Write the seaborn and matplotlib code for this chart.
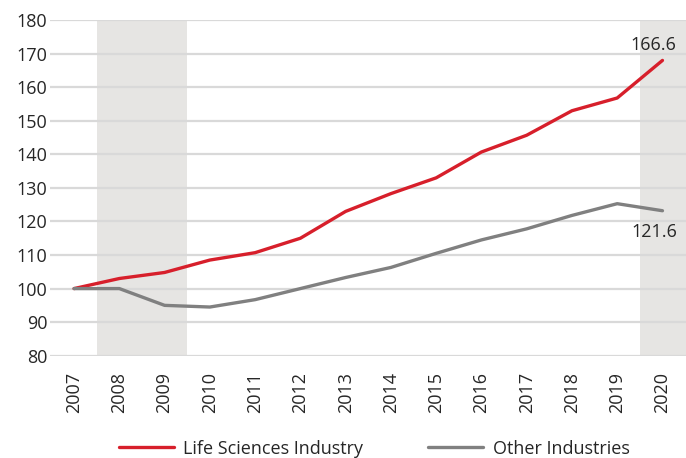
import numpy as np
import pandas as pd
import seaborn as sns
import matplotlib.pyplot as plt

# data (index, 2007 = 100)
years = [2007, 2008, 2009, 2010, 2011, 2012, 2013, 2014, 2015, 2016, 2017, 2018, 2019, 2020]
life_sciences = [100, 103, 104.8, 108.5, 110.7, 115, 123, 128.3, 133, 140.7, 145.7, 153, 156.8, 168]
other_industries = [100, 100, 95, 94.5, 96.7, 100, 103.3, 106.3, 110.5, 114.5, 117.8, 121.8, 125.3, 123.2]
series_names = ['Life Sciences Industry', 'Other Industries']
end_labels = ['166.6', '121.6']
shaded_periods = [(2007.5, 2009.5), (2019.5, 2020.6)]

df = pd.DataFrame({'year': years * 2,
                   'value': life_sciences + other_industries,
                   'series': [series_names[0]] * len(years) + [series_names[1]] * len(years)})

sns.set_theme(style='white')
plt.rcParams['font.family'] = ['Open Sans', 'DejaVu Sans']

fig = plt.figure(figsize=(6.86, 4.58), dpi=100)
ax = fig.add_axes([0.073, 0.2234, 0.927, 0.7326])

for x0, x1 in shaded_periods:
    ax.axvspan(x0, x1, color='#e6e5e3', lw=0, zorder=0)

for v in range(80, 181, 10):
    ax.axhline(v, color='#d9d9d9', lw=1.6, zorder=1)

sns.lineplot(data=df, x='year', y='value', hue='series',
             palette={series_names[0]: '#d71f2b', series_names[1]: '#808080'},
             linewidth=2.4, ax=ax, zorder=3)

ax.set_xlim(2006.47, 2020.52)
ax.set_ylim(80, 180)
ax.set_xticks(years)
ax.set_xticklabels([str(y) for y in years], rotation=90, fontsize=13)
ax.set_yticks(range(80, 181, 10))
ax.tick_params(axis='y', labelsize=13, pad=2, length=0)
ax.tick_params(axis='x', pad=12, length=0)
ax.set_xlabel('')
ax.set_ylabel('')
sns.despine(ax=ax, left=True, bottom=True)

ax.text(years[-1] - 0.2, life_sciences[-1] + 4.5, end_labels[0], ha='center', va='center', fontsize=13)
ax.text(years[-1] - 0.18, other_industries[-1] - 6.3, end_labels[1], ha='center', va='center', fontsize=13)

handles, labels = ax.get_legend_handles_labels()
ax.legend(handles, labels, loc='center', bbox_to_anchor=(0.51, -0.277), ncol=2, frameon=False,
          fontsize=13, handlelength=3.0, columnspacing=3.6, handletextpad=0.55)

fig.savefig('out.png', dpi=100)
